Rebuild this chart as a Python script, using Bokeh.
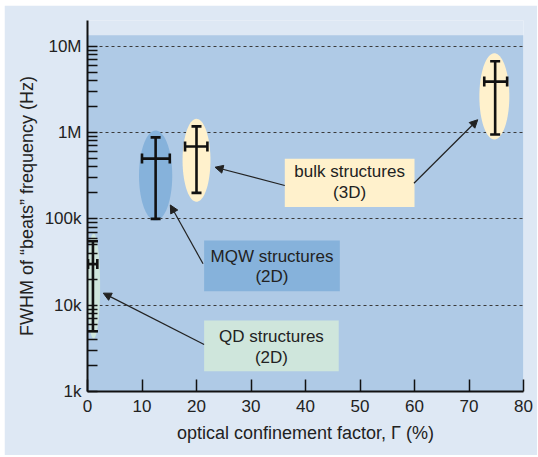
import numpy as np
from bokeh.plotting import figure
from bokeh.models import (Range1d, FixedTicker, Whisker, TeeHead, Arrow, NormalHead,
                          ColumnDataSource, BoxAnnotation)
from bokeh.core.properties import value
from bokeh.embed import file_html
from bokeh.resources import INLINE

# ---------------- data ----------------
groups = ["QD", "MQW", "bulk", "bulk"]
gamma = [1.0, 12.5, 20.0, 74.8]          # optical confinement factor (%)
gamma_lo = [0.1, 10.0, 17.9, 72.8]
gamma_hi = [1.8, 15.1, 22.0, 77.0]
fwhm = [30e3, 500e3, 690e3, 3.9e6]       # FWHM of beats frequency (Hz)
fwhm_lo = [5e3, 100e3, 200e3, 0.95e6]
fwhm_hi = [55e3, 880e3, 1.18e6, 6.7e6]

# shaded ellipses around each group (data extents)
ell_x = [1.12, 12.5, 20.0, 74.65]
ell_halfw = [1.19, 3.05, 2.56, 2.75]
ell_lo = [4.1e3, 95.5e3, 158e3, 832e3]
ell_hi = [67.6e3, 1.057e6, 1.445e6, 8.3e6]

y_ticks = [1e3, 1e4, 1e5, 1e6, 1e7]
y_tick_labels = ["1k", "10k", "100k", "1M", "10M"]
x_ticks = [0, 10, 20, 30, 40, 50, 60, 70, 80]

# annotation boxes
box_line1 = ["bulk structures", "MQW structures", "QD structures"]
box_line2 = ["(3D)", "(2D)", "(2D)"]
box_left = [36.2, 21.4, 21.4]
box_right = [60.0, 46.3, 46.1]
box_top = [497e3, 56.3e3, 6.65e3]
box_bottom = [137e3, 14.5e3, 1.72e3]
box_base1 = [357e3, 37.0e3, 4.38e3]
box_base2 = [201e3, 21.7e3, 2.45e3]

# arrows (from label boxes to groups)
arr_x0 = [36.2, 59.9, 21.2, 21.4]
arr_y0 = [244e3, 259e3, 30.2e3, 3.5e3]
arr_x1 = [23.4, 71.6, 15.2, 2.9]
arr_y1 = [397e3, 1.41e6, 145e3, 13.8e3]

# ---------------- styles ----------------
OUTER = "#dee8f4"
AREA = "#afcae6"
MQW_C = "#86b2db"
BULK_C = "#fff1cc"
QD_C = "#cfe6dc"
color_map = {"QD": QD_C, "MQW": MQW_C, "bulk": BULK_C}
box_colors = [BULK_C, MQW_C, QD_C]
SANS = "Liberation Sans"

p = figure(width=533, height=450, x_range=Range1d(0, 80), y_range=Range1d(1e3, 10**7.299),
           y_axis_type="log", output_backend="svg", toolbar_location=None,
           min_border_left=83, min_border_right=14, min_border_top=15, min_border_bottom=64)
p.margin = (5, 1, 2, 4)
p.background_fill_color = OUTER
p.border_fill_color = OUTER
p.outline_line_color = None

bg = BoxAnnotation(top=10**7.127, fill_color=AREA, fill_alpha=1.0, line_color=None, level="image")
p.add_layout(bg)

# grid
p.xgrid.visible = False
p.ygrid.ticker = FixedTicker(ticks=y_ticks)
p.ygrid.grid_line_color = "#3a3a3a"
p.ygrid.grid_line_dash = "3 3"
p.ygrid.grid_line_width = 1

# axes
minor = [k * 10**d for d in range(3, 7) for k in range(2, 10)] + [2e7]
p.yaxis.ticker = FixedTicker(ticks=y_ticks, minor_ticks=minor)
p.yaxis.major_label_overrides = {t: l for t, l in zip(y_ticks, y_tick_labels)}
p.xaxis.ticker = FixedTicker(ticks=x_ticks)
for ax in (p.xaxis[0], p.yaxis[0]):
    ax.axis_line_color = "#111111"
    ax.axis_line_width = 2
    ax.major_tick_line_color = "#111111"
    ax.major_tick_line_width = 1.5
    ax.minor_tick_line_color = "#111111"
    ax.minor_tick_line_width = 1.5
    ax.major_tick_out = 0
    ax.minor_tick_out = 0
    ax.major_label_text_font = SANS
    ax.major_label_text_font_size = "17px"
    ax.major_label_text_color = "#222222"
    ax.axis_label_text_font = SANS
    ax.axis_label_text_font_size = "18px"
    ax.axis_label_text_font_style = "normal"
    ax.axis_label_text_color = "#222222"
p.xaxis.major_tick_in = 12
p.xaxis.minor_tick_in = 0
p.yaxis.major_tick_in = 10
p.yaxis.minor_tick_in = 10
p.xaxis.major_label_standoff = 8
p.yaxis.major_label_standoff = 6
p.xaxis.axis_label = "optical confinement factor, \u0393 (%)"
p.yaxis.axis_label = "FWHM of \u201cbeats\u201d frequency (Hz)"
p.xaxis.axis_label_standoff = 8
p.yaxis.axis_label_standoff = 5

# ellipses (drawn as true ellipses in x / log10(y) space)
t = np.linspace(0, 2 * np.pi, 80)
xs, ys = [], []
for cx, hw, lo, hi in zip(ell_x, ell_halfw, ell_lo, ell_hi):
    lc = (np.log10(lo) + np.log10(hi)) / 2
    lh = (np.log10(hi) - np.log10(lo)) / 2
    xs.append(list(cx + hw * np.cos(t)))
    ys.append(list(10 ** (lc + lh * np.sin(t))))
p.patches(xs, ys, fill_color=[color_map[g] for g in groups], line_color=None)

# error bars
src = ColumnDataSource(dict(x=gamma, y=fwhm, xlo=gamma_lo, xhi=gamma_hi, ylo=fwhm_lo, yhi=fwhm_hi))
for dim, base, lo, hi in (("height", "x", "ylo", "yhi"), ("width", "y", "xlo", "xhi")):
    w = Whisker(source=src, base=base, lower=lo, upper=hi, dimension=dim,
                line_color="#111111", line_width=2.6, level="annotation",
                upper_head=TeeHead(size=10, line_color="#111111", line_width=2.6),
                lower_head=TeeHead(size=10, line_color="#111111", line_width=2.6))
    p.add_layout(w)

# label boxes
p.quad(left=box_left, right=box_right, top=box_top, bottom=box_bottom,
       fill_color=box_colors, line_color=None)
cx = [(a + b) / 2 for a, b in zip(box_left, box_right)]
p.text(x=cx, y=box_base1, text=box_line1, text_align="center", text_baseline="alphabetic",
       text_font=value(SANS), text_font_size="17px", text_color="#222222")
p.text(x=cx, y=box_base2, text=box_line2, text_align="center", text_baseline="alphabetic",
       text_font=value(SANS), text_font_size="17px", text_color="#222222")

# arrows
for x0, y0, x1, y1 in zip(arr_x0, arr_y0, arr_x1, arr_y1):
    p.add_layout(Arrow(x_start=x0, y_start=y0, x_end=x1, y_end=y1,
                       line_color="#222222", line_width=1.2,
                       end=NormalHead(size=8, fill_color="#222222", line_color="#222222", line_width=1)))

open("out.html", "w").write(file_html(p, INLINE))
